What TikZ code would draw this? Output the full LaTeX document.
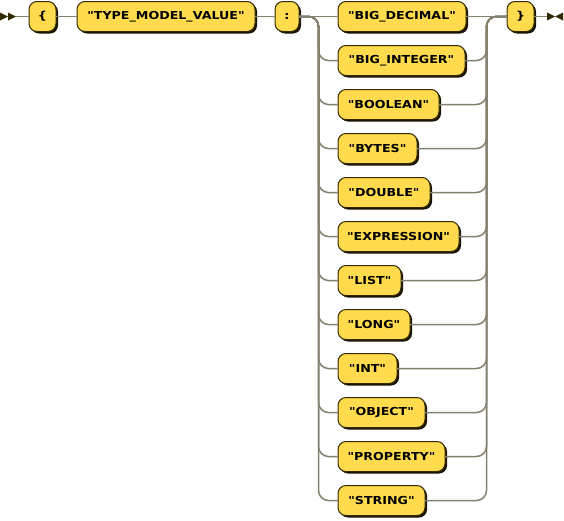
\documentclass[tikz,border=0pt]{standalone}
\usepackage{fontspec}
\newfontfamily\railfont[FakeStretch=1.15]{DejaVu Sans}
\usepackage{tikz}
\usetikzlibrary{positioning,shadows}
\definecolor{termfill}{HTML}{FFDB4D}
\definecolor{termdraw}{HTML}{332900}
\definecolor{termshadow}{HTML}{1A1400}
\definecolor{railgray}{HTML}{858170}

\begin{document}
\begin{tikzpicture}[x=1pt, y=-1pt,
				termnode/.style={rectangle, rounded corners=8pt, draw=termdraw, line width=1pt, fill=termfill, minimum height=30pt, inner xsep=0pt, outer sep=0pt, font=\railfont\fontsize{11}{13}\selectfont\bfseries, drop shadow={shadow xshift=2pt, shadow yshift=-2pt, fill=termshadow, opacity=1}},
				altnode/.style={termnode, below=14pt of #1.south west, anchor=north west},
				rail/.style={draw=railgray, line width=1.5pt},
				marker/.style={fill=termdraw, draw=none},
			]
			\useasboundingbox (0,0) rectangle (564,520);
			\coordinate (start) at (16,16.5);
			\node[termnode, minimum width=27pt, anchor=west] (lbrace) at (29,16.5) {\{};
			\node[termnode, minimum width=178pt] (typemodel) [right=21pt of lbrace] {"TYPE\_MODEL\_VALUE"};
			\node[termnode, minimum width=24pt] (colon) [right=20pt of typemodel] {:};
			\node[termnode, minimum width=128pt] (bigdecimal) [right=39pt of colon] {"BIG\_DECIMAL"};
			\node[termnode, minimum width=27pt] (rbrace) [right=41pt of bigdecimal] {\}};
			\node[altnode=bigdecimal, minimum width=127pt] (biginteger) {"BIG\_INTEGER"};
			\node[altnode=biginteger, minimum width=101pt] (boolean) {"BOOLEAN"};
			\node[altnode=boolean, minimum width=79pt] (bytes) {"BYTES"};
			\node[altnode=bytes, minimum width=92pt] (double) {"DOUBLE"};
			\node[altnode=double, minimum width=121pt] (expression) {"EXPRESSION"};
			\node[altnode=expression, minimum width=63pt] (list) {"LIST"};
			\node[altnode=list, minimum width=72pt] (long) {"LONG"};
			\node[altnode=long, minimum width=59pt] (int) {"INT"};
			\node[altnode=int, minimum width=87pt] (object) {"OBJECT"};
			\node[altnode=object, minimum width=107pt] (property) {"PROPERTY"};
			\node[altnode=property, minimum width=87pt] (string) {"STRING"};
			\coordinate (finish) at (547,16.5);
			\path (colon.east) -- (bigdecimal.west) coordinate[midway] (lsplit);
			\path (bigdecimal.east) -- (rbrace.west) coordinate[midway] (rsplit);
			\fill[marker] (start) -- ++(-8,-4) -- ++(0,8) -- cycle;
			\fill[marker] ([xshift=-8pt]start) -- ++(-8,-4) -- ++(0,8) -- cycle;
			\fill[marker] (finish) -- ++(0,-4) -- ++(8,4) -- ++(-8,4) -- cycle;
			\fill[marker] ([xshift=16pt]finish) -- ++(0,-4) -- ++(-8,4) -- ++(8,4) -- cycle;
			\begin{scope}[rail, rounded corners=10pt]
			\draw (start) -- (lbrace.west);
			\draw (lbrace.east) -- (typemodel.west);
			\draw (typemodel.east) -- (colon.west);
			\draw (colon.east) -- (bigdecimal.west);
			\draw (bigdecimal.east) -- (rbrace.west);
			\draw (rbrace.east) -- (finish);
			\draw (colon.east) -| (lsplit |- biginteger) -- (biginteger.west);
			\draw (colon.east) -| (lsplit |- boolean) -- (boolean.west);
			\draw (colon.east) -| (lsplit |- bytes) -- (bytes.west);
			\draw (colon.east) -| (lsplit |- double) -- (double.west);
			\draw (colon.east) -| (lsplit |- expression) -- (expression.west);
			\draw (colon.east) -| (lsplit |- list) -- (list.west);
			\draw (colon.east) -| (lsplit |- long) -- (long.west);
			\draw (colon.east) -| (lsplit |- int) -- (int.west);
			\draw (colon.east) -| (lsplit |- object) -- (object.west);
			\draw (colon.east) -| (lsplit |- property) -- (property.west);
			\draw (colon.east) -| (lsplit |- string) -- (string.west);
			\draw (biginteger.east) -| (rsplit |- rbrace) -- (rbrace.west);
			\draw (boolean.east) -| (rsplit |- rbrace) -- (rbrace.west);
			\draw (bytes.east) -| (rsplit |- rbrace) -- (rbrace.west);
			\draw (double.east) -| (rsplit |- rbrace) -- (rbrace.west);
			\draw (expression.east) -| (rsplit |- rbrace) -- (rbrace.west);
			\draw (list.east) -| (rsplit |- rbrace) -- (rbrace.west);
			\draw (long.east) -| (rsplit |- rbrace) -- (rbrace.west);
			\draw (int.east) -| (rsplit |- rbrace) -- (rbrace.west);
			\draw (object.east) -| (rsplit |- rbrace) -- (rbrace.west);
			\draw (property.east) -| (rsplit |- rbrace) -- (rbrace.west);
			\draw (string.east) -| (rsplit |- rbrace) -- (rbrace.west);
			\end{scope}
			\end{tikzpicture}
\end{document}
